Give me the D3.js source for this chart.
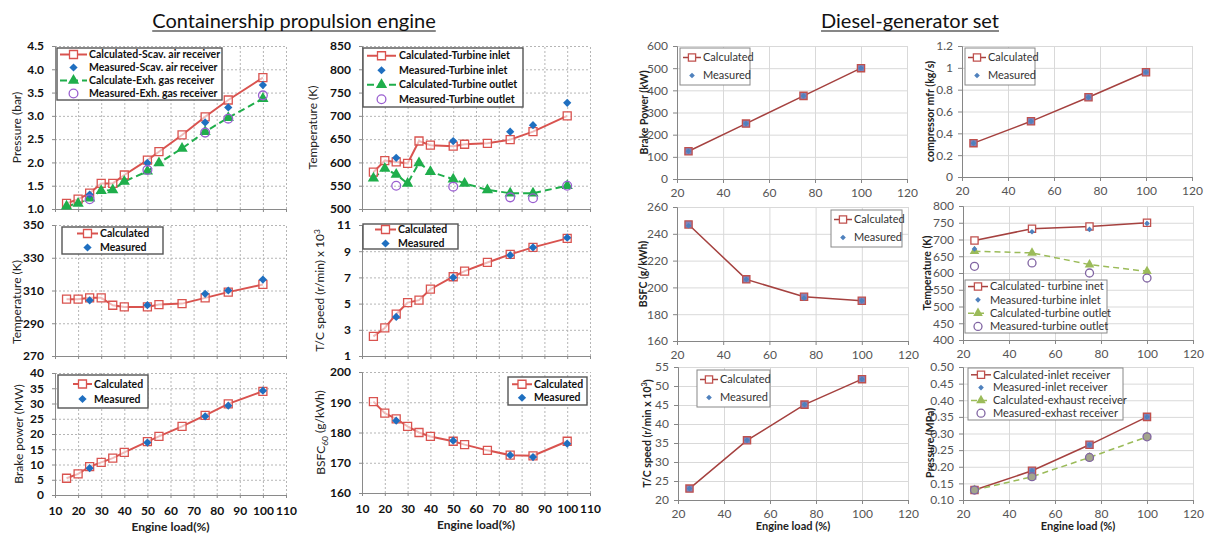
<!DOCTYPE html>
<html>
<head>
<meta charset="utf-8">
<script src="https://cdn.jsdelivr.net/npm/d3@7"></script>
<style>
  body { margin: 0; background: #fff; }
  svg { display: block; font-family: Lato, "Open Sans", sans-serif; }
</style>
</head>
<body>
<svg id="chart" width="1210" height="537"></svg>
<script>
// ---- Containership propulsion engine data ----
const engineLoad = [15, 20, 25, 30, 35, 40, 50, 55, 65, 75, 85, 100];
const measuredLoad = [25, 50, 75, 85, 100];
const loadTicks = [10, 20, 30, 40, 50, 60, 70, 80, 90, 100, 110];

const scavPressCalc = [1.12, 1.21, 1.34, 1.55, 1.55, 1.73, 2.05, 2.23, 2.59, 2.98, 3.34, 3.82];
const scavPressMeas = [1.31, 1.99, 2.86, 3.18, 3.66];
const exhPressCalc = [1.06, 1.12, 1.23, 1.39, 1.41, 1.59, 1.81, 1.99, 2.30, 2.66, 2.96, 3.37];
const exhPressMeas = [1.21, 1.84, 2.64, 2.94, 3.44];
const pressTicks = [1.0, 1.5, 2.0, 2.5, 3.0, 3.5, 4.0, 4.5];

const turbInCalc = [579, 604, 601, 598, 646, 637, 635, 639, 641, 649, 666, 700];
const turbInMeas = [610, 646, 666, 680, 728];
const turbOutCalc = [566, 587, 574, 555, 599, 580, 564, 555, 541, 534, 534, 550];
const turbOutMeas = [550, 548, 525, 523, 550];
const turbTempTicks = [500, 550, 600, 650, 700, 750, 800, 850];

const scavTempCalc = [304.7, 304.7, 305.5, 305.5, 301, 300, 300, 301.4, 302, 305.5, 309, 313.7];
const scavTempMeas = [304, 301, 308, 310, 316.7];
const scavTempTicks = [270, 290, 310, 330, 350];

const tcSpeedCalc = [2.5, 3.14, 4.19, 5.08, 5.26, 6.1, 7.05, 7.48, 8.14, 8.76, 9.29, 9.98];
const tcSpeedMeas = [3.98, 7.0, 8.7, 9.29, 10.03];
const tcSpeedTicks = [1, 3, 5, 7, 9, 11];

const brakePowerCalc = [5.5, 6.9, 9.3, 10.7, 12.1, 14, 17.5, 19.2, 22.5, 26.1, 29.9, 34];
const brakePowerMeas = [8.8, 17.2, 25.8, 29.3, 34.2];
const brakePowerTicks = [0, 5, 10, 15, 20, 25, 30, 35, 40];

const bsfcCalc = [190.2, 186.4, 184.5, 182, 180, 178.7, 177.1, 176, 174.1, 172.5, 172.3, 177.1];
const bsfcMeas = [183.9, 177.3, 172.5, 171.9, 176.3];
const bsfcTicks = [160, 170, 180, 190, 200];

// ---- Diesel-generator set data ----
const genLoad = [25, 50, 75, 100];
const genLoadTicks = [20, 40, 60, 80, 100, 120];

const genPowerCalc = [125, 250, 375, 500];
const genPowerMeas = [125, 250, 375, 500];
const genPowerTicks = [0, 100, 200, 300, 400, 500, 600];

const genMfrCalc = [0.31, 0.51, 0.73, 0.96];
const genMfrMeas = [0.31, 0.51, 0.73, 0.96];
const genMfrTicks = [0, 0.2, 0.4, 0.6, 0.8, 1, 1.2];

const genBsfcCalc = [247, 206, 193, 190];
const genBsfcMeas = [246, 206, 192, 190];
const genBsfcTicks = [160, 180, 200, 220, 240, 260];

const genTurbInCalc = [697, 732, 739, 750];
const genTurbInMeas = [672, 723, 730, 748];
const genTurbOutCalc = [665, 660, 625, 605];
const genTurbOutMeas = [620, 630, 600, 585];
const genTempTicks = [400, 450, 500, 550, 600, 650, 700, 750, 800];

const genTcCalc = [23, 35.7, 45.1, 51.8];
const genTcMeas = [23, 35.7, 45.1, 51.8];
const genTcTicks = [20, 25, 30, 35, 40, 45, 50, 55];

const genInletCalc = [0.13, 0.188, 0.266, 0.35];
const genInletMeas = [0.13, 0.188, 0.266, 0.35];
const genExhCalc = [0.13, 0.17, 0.228, 0.29];
const genExhMeas = [0.13, 0.17, 0.228, 0.29];
const genPressTicks = [0.10, 0.15, 0.20, 0.25, 0.30, 0.35, 0.40, 0.45, 0.50];

// ---- styles ----
const shipStyle = {
  calc:  { line: '#d9534f', width: 2, marker: 'square', stroke: '#d9534f', fill: 'rgba(255,255,255,0.6)', size: 64 },
  meas:  { marker: 'diamond', fill: '#1f6fc0', stroke: 'none', size: 34 },
  calc2: { line: '#1fae4b', width: 2, dash: '7,4', marker: 'triangle', stroke: 'none', fill: '#1fae4b', size: 55 },
  meas2: { marker: 'circle', stroke: '#9a5fd0', fill: 'none', size: 60 },
  grid: '#b5b5b5', gridDash: '2,2', axis: '#8a8a8a',
  tickFont: 12, tickWeight: 700, tickColor: '#111',
  legendFont: 10.5, legendWeight: 700, legendStroke: '#555'
};
const genStyle = {
  calc:  { line: '#a5413f', width: 1.5, marker: 'square', stroke: '#c0504d', fill: '#fff', size: 52 },
  meas:  { marker: 'diamond', fill: '#4f81bd', stroke: 'none', size: 16 },
  calc2: { line: '#9bbb59', width: 1.5, dash: '6,4', marker: 'triangle', stroke: 'none', fill: '#9bbb59', size: 40 },
  meas2: { marker: 'circle', stroke: '#8064a2', fill: '#fff', size: 50 },
  grid: '#d9d9d9', gridDash: null, axis: '#868686',
  tickFont: 12, tickWeight: 400, tickColor: '#555',
  legendFont: 11, legendWeight: 400, legendStroke: '#888'
};

const filled = '#8083bb';

// ---- panels ----
const panels = [
  { theme: 'ship', x0: 55, x1: 286, y0: 46, y1: 209, xTicks: loadTicks, yTicks: pressTicks, yFmt: d3.format('.1f'),
    yLabel: 'Pressure (bar)', labelX: 17,
    legend: { x: 57, y: 48, w: 165, h: 52, row: 13, sx0: 60, sx1: 87, tx: 89 },
    series: [
      { kind: 'calc', x: engineLoad, y: scavPressCalc, name: 'Calculated-Scav. air receiver' },
      { kind: 'meas', x: measuredLoad, y: scavPressMeas, name: 'Measured-Scav. air receiver' },
      { kind: 'calc2', x: engineLoad, y: exhPressCalc, name: 'Calculate-Exh. gas receiver' },
      { kind: 'meas2', x: measuredLoad, y: exhPressMeas, name: 'Measured-Exh. gas receiver' }
    ] },
  { theme: 'ship', x0: 362, x1: 590, y0: 46, y1: 209, xTicks: loadTicks, yTicks: turbTempTicks, yFmt: d3.format('d'),
    yLabel: 'Temperature (K)', labelX: 313,
    legend: { x: 363, y: 48, w: 160, h: 59, row: 14.5, sx0: 367, sx1: 396, tx: 399 },
    series: [
      { kind: 'calc', x: engineLoad, y: turbInCalc, name: 'Calculated-Turbine inlet' },
      { kind: 'meas', x: measuredLoad, y: turbInMeas, name: 'Measured-Turbine inlet' },
      { kind: 'calc2', x: engineLoad, y: turbOutCalc, name: 'Calculated-Turbine outlet' },
      { kind: 'meas2', x: measuredLoad, y: turbOutMeas, name: 'Measured-Turbine outlet' }
    ] },
  { theme: 'ship', x0: 55, x1: 286, y0: 225, y1: 356, xTicks: loadTicks, yTicks: scavTempTicks, yFmt: d3.format('d'),
    yLabel: 'Temperature (K)', labelX: 17, labelY: 302,
    legend: { x: 62, y: 227, w: 101, h: 27, row: 14, sx0: 77, sx1: 98, tx: 100 },
    series: [
      { kind: 'calc', x: engineLoad, y: scavTempCalc, name: 'Calculated' },
      { kind: 'meas', x: measuredLoad, y: scavTempMeas, name: 'Measured' }
    ] },
  { theme: 'ship', x0: 362, x1: 590, y0: 225, y1: 356, xTicks: loadTicks, yTicks: tcSpeedTicks, yFmt: d3.format('d'),
    yLabel: ['T/C  speed (r/min) x 10', '3'], labelX: 320,
    legend: { x: 363, y: 224, w: 95, h: 25, row: 14, sx0: 375, sx1: 396, tx: 398 },
    series: [
      { kind: 'calc', x: engineLoad, y: tcSpeedCalc, name: 'Calculated' },
      { kind: 'meas', x: measuredLoad, y: tcSpeedMeas, name: 'Measured' }
    ] },
  { theme: 'ship', x0: 55, x1: 286, y0: 373, y1: 495, xTicks: loadTicks, yTicks: brakePowerTicks, yFmt: d3.format('d'),
    yLabel: 'Brake power (MW)', labelX: 19, showX: true, xLabel: 'Engine load(%)',
    legend: { x: 58, y: 375, w: 90, h: 33, row: 15, sx0: 73, sx1: 92, tx: 94 },
    series: [
      { kind: 'calc', x: engineLoad, y: brakePowerCalc, name: 'Calculated' },
      { kind: 'meas', x: measuredLoad, y: brakePowerMeas, name: 'Measured' }
    ] },
  { theme: 'ship', x0: 362, x1: 590, y0: 372, y1: 493, xTicks: loadTicks, yTicks: bsfcTicks, yFmt: d3.format('d'),
    yLabel: ['BSFC', '60', ' (g/kWh)'], labelX: 321, showX: true, xLabel: 'Engine load(%)',
    legend: { x: 508, y: 377, w: 79, h: 28, row: 13.5, sx0: 512, sx1: 532, tx: 534 },
    series: [
      { kind: 'calc', x: engineLoad, y: bsfcCalc, name: 'Calculated' },
      { kind: 'meas', x: measuredLoad, y: bsfcMeas, name: 'Measured' }
    ] },

  { theme: 'gen', x0: 677, x1: 907, y0: 46, y1: 179, xTicks: genLoadTicks, yTicks: genPowerTicks, yFmt: d3.format('d'),
    yLabel: 'Brake Power (kW)', labelX: 644, showX: true,
    legend: { x: 680, y: 48, w: 70, h: 37, row: 18, sx0: 683, sx1: 701, tx: 703 },
    series: [
      { kind: 'calc', x: genLoad, y: genPowerCalc, name: 'Calculated', fill: filled },
      { kind: 'meas', x: genLoad, y: genPowerMeas, name: 'Measured' }
    ] },
  { theme: 'gen', x0: 962, x1: 1192, y0: 46, y1: 177, xTicks: genLoadTicks, yTicks: genMfrTicks, yFmt: d => d3.format('~g')(d),
    yLabel: 'compressor mfr (kg/s)', labelX: 930, showX: true,
    legend: { x: 965, y: 48, w: 70, h: 37, row: 18, sx0: 968, sx1: 986, tx: 988 },
    series: [
      { kind: 'calc', x: genLoad, y: genMfrCalc, name: 'Calculated', fill: filled },
      { kind: 'meas', x: genLoad, y: genMfrMeas, name: 'Measured' }
    ] },
  { theme: 'gen', x0: 677, x1: 908, y0: 207, y1: 341, xTicks: genLoadTicks, yTicks: genBsfcTicks, yFmt: d3.format('d'),
    yLabel: 'BSFC (g/kWh)', labelX: 643, showX: true,
    legend: { x: 831, y: 210, w: 71, h: 37, row: 18, sx0: 834, sx1: 852, tx: 854 },
    series: [
      { kind: 'calc', x: genLoad, y: genBsfcCalc, name: 'Calculated', fill: filled },
      { kind: 'meas', x: genLoad, y: genBsfcMeas, name: 'Measured' }
    ] },
  { theme: 'gen', x0: 963, x1: 1193, y0: 206, y1: 340, xTicks: genLoadTicks, yTicks: genTempTicks, yFmt: d3.format('d'),
    yLabel: 'Temperature (K)', labelX: 927, showX: true,
    legend: { x: 965, y: 280, w: 142, h: 53, row: 13.3, sx0: 968, sx1: 988, tx: 990 },
    series: [
      { kind: 'calc', x: genLoad, y: genTurbInCalc, name: 'Calculated- turbine inet' },
      { kind: 'meas', x: genLoad, y: genTurbInMeas, name: 'Measured-turbine inlet' },
      { kind: 'calc2', x: genLoad, y: genTurbOutCalc, name: 'Calculated-turbine outlet' },
      { kind: 'meas2', x: genLoad, y: genTurbOutMeas, name: 'Measured-turbine outlet' }
    ] },
  { theme: 'gen', x0: 678, x1: 908, y0: 367, y1: 500, xTicks: genLoadTicks, yTicks: genTcTicks, yFmt: d3.format('d'),
    yLabel: ['T/C speed (r/min x 10', '3', ')'], labelX: 647, showX: true, xLabel: 'Engine load (%)',
    legend: { x: 697, y: 370, w: 73, h: 37, row: 18, sx0: 700, sx1: 718, tx: 720 },
    series: [
      { kind: 'calc', x: genLoad, y: genTcCalc, name: 'Calculated', fill: filled },
      { kind: 'meas', x: genLoad, y: genTcMeas, name: 'Measured' }
    ] },
  { theme: 'gen', x0: 963, x1: 1193, y0: 367, y1: 500, xTicks: genLoadTicks, yTicks: genPressTicks, yFmt: d3.format('.2f'),
    yLabel: 'Pressure (MPa)', labelX: 930, labelY: 443, showX: true, xLabel: 'Engine load (%)',
    legend: { x: 968, y: 368, w: 155, h: 52, row: 12.8, sx0: 971, sx1: 991, tx: 993 },
    series: [
      { kind: 'calc', x: genLoad, y: genInletCalc, name: 'Calculated-inlet receiver', fill: filled },
      { kind: 'meas', x: genLoad, y: genInletMeas, name: 'Measured-inlet receiver' },
      { kind: 'calc2', x: genLoad, y: genExhCalc, name: 'Calculated-exhaust receiver' },
      { kind: 'meas2', x: genLoad, y: genExhMeas, name: 'Measured-exhast receiver', fill: '#a3a58c' }
    ] }
];

const svg = d3.select('#chart');

const symbolTypes = {
  square: d3.symbolSquare,
  diamond: d3.symbolSquare,   // drawn rotated 45 degrees
  triangle: d3.symbolTriangle,
  circle: d3.symbolCircle
};

function drawMarker(sel, st, fillOverride) {
  return sel.append('path')
    .attr('d', d3.symbol().type(symbolTypes[st.marker]).size(st.size)())
    .attr('transform', st.marker === 'diamond' ? 'rotate(45)' : null)
    .attr('fill', fillOverride || st.fill)
    .attr('stroke', st.stroke || 'none')
    .attr('stroke-width', st.marker === 'square' || st.marker === 'circle' ? 1.3 : 0);
}

function drawPanel(p) {
  const th = p.theme === 'gen' ? genStyle : shipStyle;
  const xs = d3.scaleLinear().domain(d3.extent(p.xTicks)).range([p.x0, p.x1]);
  const ys = d3.scaleLinear().domain(d3.extent(p.yTicks)).range([p.y1, p.y0]);
  const g = svg.append('g');

  // grid lines
  const gx = g.append('g').attr('transform', `translate(0,${p.y1})`)
    .call(d3.axisBottom(xs).tickValues(p.xTicks).tickSize(-(p.y1 - p.y0)).tickFormat(''));
  const gy = g.append('g').attr('transform', `translate(${p.x0},0)`)
    .call(d3.axisLeft(ys).tickValues(p.yTicks).tickSize(-(p.x1 - p.x0)).tickFormat(''));
  [gx, gy].forEach(a => {
    a.select('.domain').remove();
    a.selectAll('line').attr('stroke', th.grid).attr('stroke-dasharray', th.gridDash);
  });

  // axes
  const ay = g.append('g').attr('transform', `translate(${p.x0},0)`)
    .call(d3.axisLeft(ys).tickValues(p.yTicks).tickFormat(p.yFmt)
      .tickSize(p.theme === 'gen' ? 4 : 3).tickPadding(p.theme === 'gen' ? 5 : 8));
  const ax = g.append('g').attr('transform', `translate(0,${p.y1})`)
    .call(d3.axisBottom(xs).tickValues(p.xTicks).tickSize(p.theme === 'gen' ? 4 : 3)
      .tickPadding(p.theme === 'gen' ? 5 : 8)
      .tickFormat(p.showX ? d3.format('d') : ''));
  [ax, ay].forEach(a => {
    a.select('.domain').attr('stroke', th.axis);
    a.selectAll('line').attr('stroke', th.axis);
    a.selectAll('text')
      .attr('font-family', 'Lato, sans-serif')
      .attr('font-size', th.tickFont)
      .attr('font-weight', th.tickWeight)
      .attr('fill', th.tickColor);
  });

  // series lines
  p.series.forEach(s => {
    const st = th[s.kind];
    if (!st.line) return;
    const pts = s.x.map((v, i) => [v, s.y[i]]);
    g.append('path')
      .datum(pts)
      .attr('fill', 'none')
      .attr('stroke', st.line)
      .attr('stroke-width', st.width)
      .attr('stroke-dasharray', st.dash || null)
      .attr('d', d3.line().x(d => xs(d[0])).y(d => ys(d[1])));
  });

  // markers: calculated first, measured on top
  const order = ['calc', 'calc2', 'meas', 'meas2'];
  order.forEach(kind => {
    p.series.filter(s => s.kind === kind).forEach(s => {
      const st = th[kind];
      s.x.forEach((v, i) => {
        const m = g.append('g').attr('transform', `translate(${xs(v)},${ys(s.y[i])})`);
        drawMarker(m, st, s.fill);
      });
    });
  });

  // legend
  const L = p.legend;
  const lg = g.append('g');
  lg.append('rect')
    .attr('x', L.x).attr('y', L.y).attr('width', L.w).attr('height', L.h)
    .attr('fill', '#fff').attr('stroke', th.legendStroke)
    .attr('stroke-width', p.theme === 'gen' ? 1 : 1.4);
  const top = L.y + (L.h - L.row * (p.series.length - 1)) / 2;
  p.series.forEach((s, i) => {
    const st = th[s.kind];
    const cy = top + i * L.row;
    if (st.line) {
      lg.append('line')
        .attr('x1', L.sx0).attr('x2', L.sx1).attr('y1', cy).attr('y2', cy)
        .attr('stroke', st.line).attr('stroke-width', st.width)
        .attr('stroke-dasharray', st.dash || null);
    }
    const m = lg.append('g').attr('transform', `translate(${(L.sx0 + L.sx1) / 2},${cy})`);
    drawMarker(m, st, s.kind === 'calc' ? '#fff' : null);
    lg.append('text')
      .attr('x', L.tx).attr('y', cy).attr('dy', '0.35em')
      .attr('font-size', th.legendFont)
      .attr('font-weight', th.legendWeight)
      .attr('fill', p.theme === 'gen' ? '#333' : '#111')
      .text(s.name);
  });

  // y-axis title
  const ly = p.labelY || (p.y0 + p.y1) / 2;
  const yt = g.append('text')
    .attr('transform', `translate(${p.labelX},${ly}) rotate(-90)`)
    .attr('text-anchor', 'middle')
    .attr('dy', '0.35em')
    .attr('font-size', p.theme === 'gen' ? 10.5 : 12)
    .attr('font-weight', p.theme === 'gen' ? 700 : 400)
    .attr('fill', '#222');
  if (Array.isArray(p.yLabel)) {
    yt.append('tspan').text(p.yLabel[0]);
    const sub = p.yLabel[0] === 'BSFC';
    yt.append('tspan')
      .attr('font-size', '0.7em')
      .attr('dy', sub ? '0.35em' : '-0.5em')
      .text(p.yLabel[1]);
    if (p.yLabel[2]) {
      yt.append('tspan').attr('dy', sub ? '-0.35em' : '0.5em').text(p.yLabel[2]);
    }
  } else {
    yt.text(p.yLabel);
  }

  // x-axis title
  if (p.xLabel) {
    g.append('text')
      .attr('x', (p.x0 + p.x1) / 2)
      .attr('y', p.theme === 'gen' ? p.y1 + 30 : p.y1 + 36)
      .attr('text-anchor', 'middle')
      .attr('font-size', p.theme === 'gen' ? 11 : 12)
      .attr('font-weight', 700)
      .attr('fill', '#222')
      .text(p.xLabel);
  }
}

panels.forEach(drawPanel);

// section titles
const titles = [
  { text: 'Containership propulsion engine', x: 294 },
  { text: 'Diesel-generator set', x: 910 }
];
titles.forEach(t => {
  const tx = svg.append('text')
    .attr('x', t.x).attr('y', 28)
    .attr('text-anchor', 'middle')
    .attr('font-size', 20)
    .attr('fill', '#111')
    .text(t.text);
  const w = tx.node().getComputedTextLength();
  svg.append('line')
    .attr('x1', t.x - w / 2).attr('x2', t.x + w / 2)
    .attr('y1', 31).attr('y2', 31)
    .attr('stroke', '#111').attr('stroke-width', 1.2);
});
</script>
</body>
</html>
